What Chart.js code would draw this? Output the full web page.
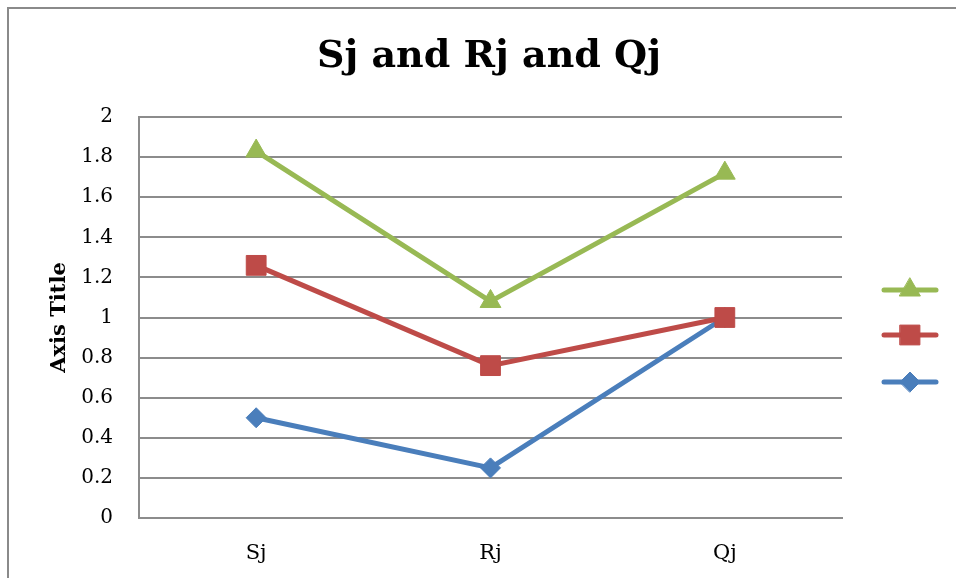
<!DOCTYPE html>
<html>
<head>
<meta charset="utf-8">
<script src="https://cdn.jsdelivr.net/npm/chart.js@4/dist/chart.umd.min.js"></script>
<style>
  html, body { margin: 0; padding: 0; background: #ffffff; }
  #wrap { position: relative; width: 956px; height: 578px; }
</style>
</head>
<body>
<div id="wrap"><canvas id="c"></canvas></div>
<script>
const categories = ['Sj', 'Rj', 'Qj'];
const seriesBlue = [0.5, 0.25, 1.0];
const seriesRed = [1.26, 0.76, 1.0];
const seriesGreen = [1.83, 1.08, 1.72];
const yTicks = [0, 0.2, 0.4, 0.6, 0.8, 1, 1.2, 1.4, 1.6, 1.8, 2];
const chartTitle = 'Sj and Rj and Qj';
const yAxisTitle = 'Axis Title';

const BLUE = '#4a7ebb';
const RED = '#be4b48';
const GREEN = '#98b954';
const GRID = '#8c8c8c';
const SERIF = '"DejaVu Serif", "Liberation Serif", serif';

const frame = {
  id: 'frame',
  beforeDraw(chart) {
    const ctx = chart.ctx;
    ctx.save();
    ctx.strokeStyle = '#8a8a8a';
    ctx.lineWidth = 2;
    ctx.beginPath();
    ctx.moveTo(8, 578);
    ctx.lineTo(8, 8);
    ctx.lineTo(956, 8);
    ctx.stroke();
    ctx.restore();
  }
};

// centre the title over the whole chart width (as in the original), not just the plot + axis
const titleSpan = {
  id: 'titleSpan',
  afterLayout(chart) {
    const t = chart.titleBlock;
    if (t) { t.left = 22; t.right = chart.width; t.width = t.right - t.left; }
  }
};

const sideLegend = {
  id: 'sideLegend',
  afterDraw(chart) {
    const ctx = chart.ctx;
    const rows = [
      { ds: 2, y: 290 },
      { ds: 1, y: 335 },
      { ds: 0, y: 382 }
    ];
    rows.forEach(r => {
      const d = chart.data.datasets[r.ds];
      ctx.save();
      ctx.strokeStyle = d.borderColor;
      ctx.lineWidth = 5;
      ctx.lineCap = 'round';
      ctx.beginPath();
      ctx.moveTo(884, r.y);
      ctx.lineTo(936, r.y);
      ctx.stroke();
      ctx.fillStyle = d.pointBackgroundColor;
      ctx.strokeStyle = d.pointBorderColor;
      ctx.lineWidth = 1;
      Chart.helpers.drawPoint(ctx, { pointStyle: d.pointStyle, radius: d.pointRadius, borderWidth: 1, rotation: 0 }, 910, r.y);
      ctx.restore();
    });
  }
};

function mkDataset(label, data, color, style, radius) {
  return {
    label: label,
    data: data,
    borderColor: color,
    backgroundColor: color,
    pointBackgroundColor: color,
    pointBorderColor: color,
    pointBorderWidth: 1,
    pointStyle: style,
    pointRadius: radius,
    pointHoverRadius: radius,
    borderWidth: 5,
    tension: 0,
    fill: false
  };
}

new Chart(document.getElementById('c'), {
  type: 'line',
  data: {
    labels: categories,
    datasets: [
      Object.assign(mkDataset('Series1', seriesBlue, BLUE, 'rectRot', 10), { order: 3 }),
      Object.assign(mkDataset('Series2', seriesRed, RED, 'rect', 14), { order: 2 }),
      Object.assign(mkDataset('Series3', seriesGreen, GREEN, 'triangle', 12), { order: 1 })
    ]
  },
  options: {
    responsive: true,
    maintainAspectRatio: false,
    animation: false,
    layout: { padding: { left: 22, right: 114, top: 0, bottom: 0 } },
    plugins: {
      legend: { display: false },
      tooltip: { enabled: false },
      title: {
        display: true,
        text: chartTitle,
        color: '#000000',
        font: { family: SERIF, size: 38, weight: 'bold', lineHeight: 1.2 },
        padding: { top: 34, bottom: 37.4 }
      }
    },
    scales: {
      x: {
        offset: true,
        grid: { display: false, drawTicks: false },
        border: { display: true, color: GRID, width: 2 },
        ticks: { color: '#000000', padding: 23, font: { family: SERIF, size: 21 } },
        afterFit(scale) { scale.height = 60; }
      },
      y: {
        min: 0,
        max: 2,
        afterBuildTicks(scale) { scale.ticks = yTicks.map(v => ({ value: v })); },
        grid: { color: GRID, lineWidth: 2, drawTicks: false },
        border: { display: true, color: GRID, width: 2 },
        ticks: {
          color: '#000000',
          padding: 26,
          font: { family: SERIF, size: 20 },
          callback: v => String(Math.round(v * 10) / 10)
        },
        title: {
          display: true,
          text: yAxisTitle,
          color: '#000000',
          font: { family: SERIF, size: 21, weight: 'bold', lineHeight: 1.2 },
          padding: { top: 25.4, bottom: 0 }
        },
        afterFit(scale) { scale.width = 117; }
      }
    }
  },
  plugins: [frame, titleSpan, sideLegend]
});
</script>
</body>
</html>
